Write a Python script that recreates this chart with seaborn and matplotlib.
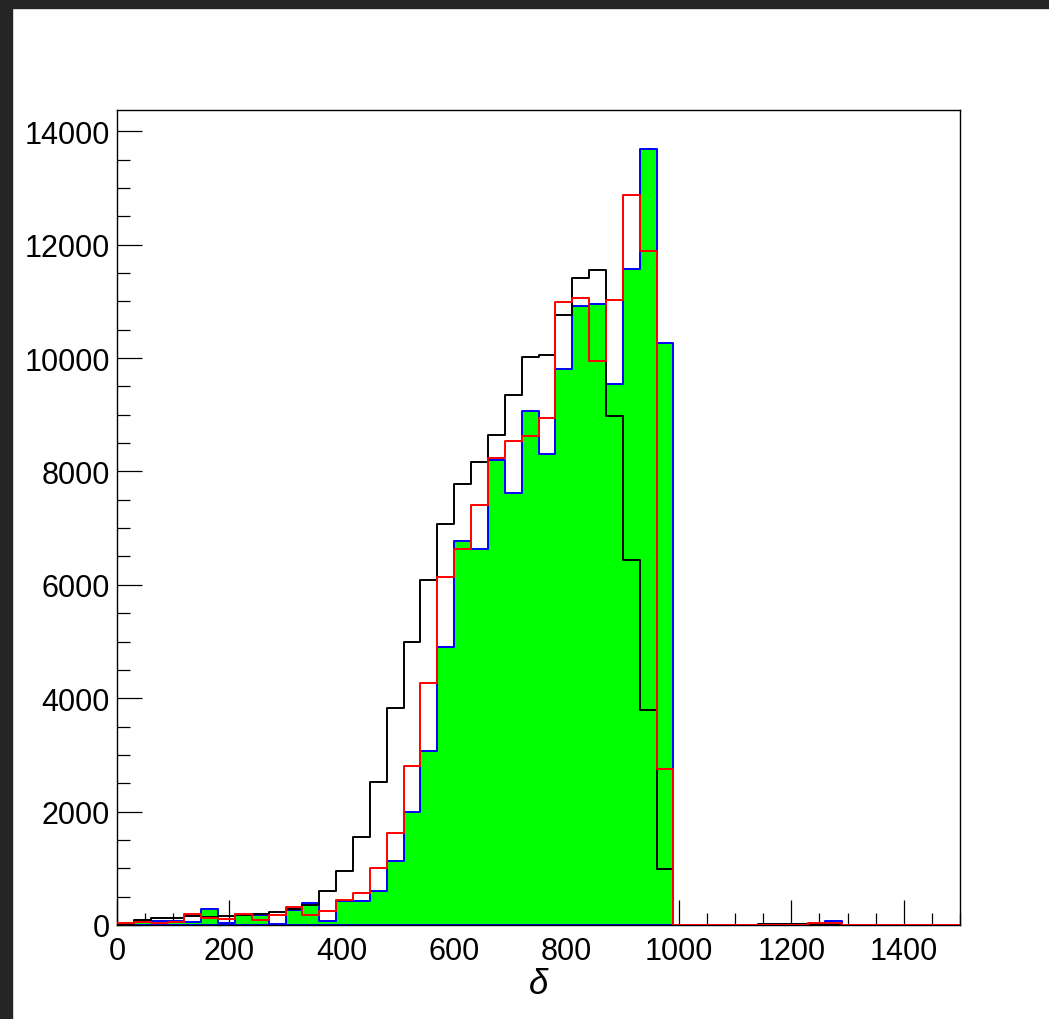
import numpy as np
import pandas as pd
import matplotlib
matplotlib.use("Agg")
import matplotlib.pyplot as plt
from matplotlib.patches import Rectangle
from matplotlib.ticker import MultipleLocator
import seaborn as sns

# ---- data (bin contents, 50 bins of width 30 from 0 to 1500) ----
bin_width = 30
x_min, x_max = 0, 1500

black_counts = [0, 90, 130, 125, 150, 135, 150, 180, 195, 230,
                285, 360, 600, 950, 1560, 2520, 3820, 4990, 6090, 7070,
                7780, 8160, 8640, 9340, 10020, 10050, 10760, 11410, 11560, 8980,
                6430, 3800, 990, 0, 0, 0, 0, 0, 15, 15,
                15, 15, 0, 0, 0, 0, 0, 0, 0, 0]

red_counts = [35, 60, 40, 45, 195, 125, 110, 195, 95, 170,
              310, 170, 255, 445, 560, 1000, 1620, 2810, 4270, 6130,
              6640, 7410, 8235, 8530, 8630, 8950, 10980, 11050, 9940, 11030,
              12870, 11880, 2750, 0, 0, 0, 0, 0, 0, 0,
              0, 40, 30, 0, 0, 0, 0, 0, 0, 0]

blue_counts = [0, 50, 75, 75, 60, 285, 40, 185, 185, 10,
               265, 382, 76, 429, 417, 594, 1135, 2000, 3070, 4910,
               6770, 6630, 8210, 7620, 9060, 8310, 9810, 10920, 10950, 9540,
               11570, 13690, 10260, 0, 0, 0, 0, 0, 0, 0,
               0, 10, 65, 0, 0, 0, 0, 0, 0, 0]

x_ticks = [0, 200, 400, 600, 800, 1000, 1200, 1400]
y_ticks = [0, 2000, 4000, 6000, 8000, 10000, 12000, 14000]
x_title = "δ"

edges = np.arange(x_min, x_max + bin_width, bin_width)
centers = edges[:-1] + bin_width / 2
df = pd.DataFrame({"delta": centers, "black": black_counts,
                   "red": red_counts, "blue": blue_counts})

sns.set_theme(style="white")
plt.rcParams['font.family'] = ['Liberation Sans', 'DejaVu Sans']

W, H = 1049, 1020
fig = plt.figure(figsize=(W / 100, H / 100), dpi=100)
fig.patch.set_facecolor("white")
# dark screenshot border on top and left
fig.add_artist(Rectangle((0, 1 - 9 / H), 1, 9 / H, transform=fig.transFigure,
                         color="#252525", zorder=10))
fig.add_artist(Rectangle((0, 0), 12 / W, 1, transform=fig.transFigure,
                         color="#252525", zorder=10))

ax = fig.add_axes([117 / W, 94 / H, 843 / W, 815 / H])

hist_kw = dict(data=df, x="delta", binwidth=bin_width, binrange=(x_min, x_max),
               element="step", ax=ax)
sns.histplot(weights="blue", fill=True, color="#00ff00", alpha=1,
             edgecolor="#0000ff", linewidth=1.4, zorder=2, **hist_kw)
sns.histplot(weights="black", fill=False, color="black", linewidth=1.4,
             zorder=3, **hist_kw)
sns.histplot(weights="red", fill=False, color="#ff0000", linewidth=1.4,
             zorder=4, **hist_kw)

ax.set_xlim(x_min, x_max)
ax.set_ylim(0, 1.05 * max(blue_counts))

for s in ax.spines.values():
    s.set_color("black")
    s.set_linewidth(1.0)

ax.set_xticks(x_ticks)
ax.set_yticks(y_ticks)
ax.xaxis.set_minor_locator(MultipleLocator(50))
ax.yaxis.set_minor_locator(MultipleLocator(500))
ax.tick_params(which="both", direction="in", color="black", width=0.9,
               bottom=True, left=True, top=False, right=False)
ax.tick_params(which="major", length=18, labelsize=22, labelcolor="black")
ax.tick_params(which="minor", length=9)
ax.tick_params(axis="x", which="major", pad=8)
ax.tick_params(axis="y", which="major", pad=5)

ax.set_ylabel("")
ax.set_xlabel(x_title, fontsize=25, fontstyle="italic", color="black")
ax.xaxis.set_label_coords(0.5, -0.052)
ax.xaxis.label.set_va("top")

fig.savefig("out.png", dpi=100)
